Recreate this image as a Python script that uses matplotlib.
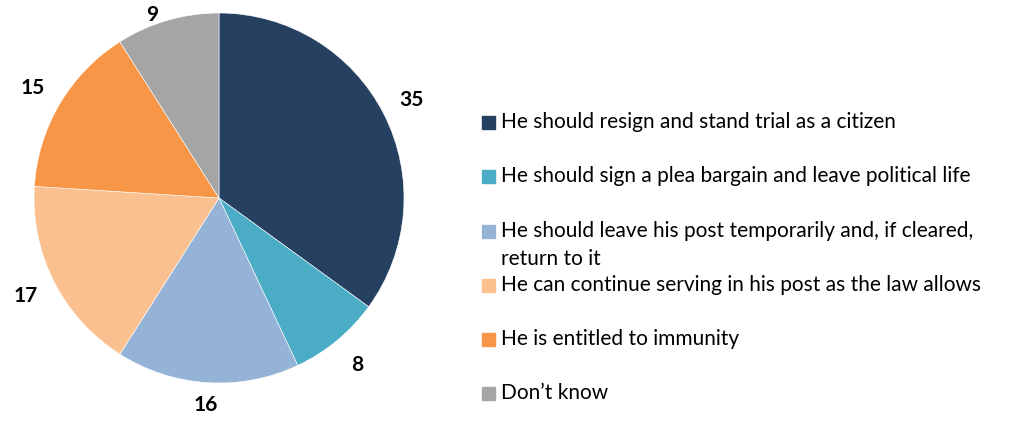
import numpy as np
import matplotlib.pyplot as plt
from matplotlib.patches import Rectangle

plt.rcParams['font.family'] = ['Lato', 'DejaVu Sans']

labels = [
    'He should resign and stand trial as a citizen',
    'He should sign a plea bargain and leave political life',
    'He should leave his post temporarily and, if cleared,\nreturn to it',
    'He can continue serving in his post as the law allows',
    'He is entitled to immunity',
    'Don\u2019t know',
]
values = [35, 8, 16, 17, 15, 9]
colors = ['#254061', '#4BACC6', '#95B3D7', '#FAC090', '#F79646', '#A5A5A5']

W, H = 1014, 421
fig = plt.figure(figsize=(W / 100, H / 100), dpi=100)

# pie centred at (219, 198) px, radius 185 px
cx, cy, r = 219, 198, 185
ax = fig.add_axes([(cx - r) / W, (H - cy - r) / H, 2 * r / W, 2 * r / H])
wedges, texts, autotexts = ax.pie(
    values, colors=colors, startangle=90, counterclock=False,
    autopct=lambda p: f'{p:.0f}', pctdistance=1.17,
    wedgeprops=dict(edgecolor='white', linewidth=0.4),
    textprops=dict(fontsize=15, fontweight='bold', color='black'))
# top and bottom labels are pulled in a bit, as in the original
x0, y0 = autotexts[-1].get_position()
autotexts[-1].set_position((x0 * 1.11, y0 * 0.88))
x0, y0 = autotexts[2].get_position()
autotexts[2].set_position((x0, y0 * 0.96))
ax.set_xlim(-1, 1)
ax.set_ylim(-1, 1)
ax.set_aspect('equal')
ax.axis('off')

# legend drawn by hand to match the uneven row spacing
rows_y = [122, 176, 231, 285, 339, 393]
for lab, col, y in zip(labels, colors, rows_y):
    fig.patches.append(Rectangle((482 / W, 1 - (y + 6.5) / H), 13 / W, 13 / H,
                                 transform=fig.transFigure, color=col))
    for i, line in enumerate(lab.split('\n')):
        fig.text(501 / W, 1 - (y + 28 * i) / H, line, fontsize=15,
                 va='center', ha='left')

fig.savefig('out.png', dpi=100)
